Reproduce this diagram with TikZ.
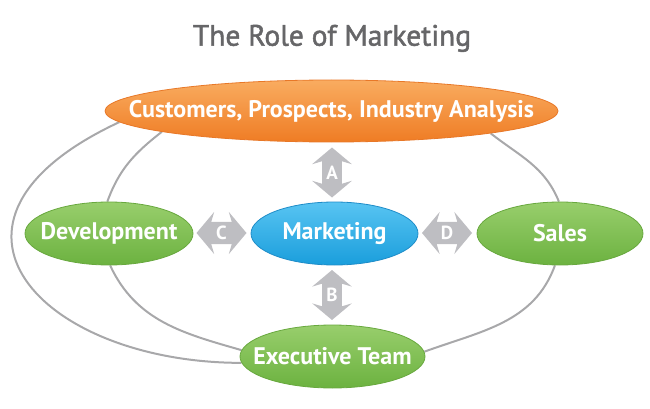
\documentclass[tikz,border=0pt]{standalone}
\usepackage{fontspec}
\setmainfont{PT Sans}
\newfontfamily\titlefont[FakeBold=1.6]{PT Sans}
\usetikzlibrary{shapes.geometric,shapes.arrows,backgrounds}

\definecolor{titlegray}{RGB}{102,102,104}
\definecolor{linkgray}{RGB}{168,168,170}
\definecolor{arrgray}{RGB}{190,190,194}
\definecolor{orangetop}{RGB}{249,172,96}
\definecolor{orangebot}{RGB}{239,124,36}
\definecolor{orangeline}{RGB}{232,120,40}
\definecolor{bluetop}{RGB}{88,196,242}
\definecolor{bluebot}{RGB}{26,158,220}
\definecolor{blueline}{RGB}{30,140,200}
\definecolor{greentop}{RGB}{152,206,108}
\definecolor{greenbot}{RGB}{108,178,64}
\definecolor{greenline}{RGB}{104,168,62}

% text kept out of the ellipse size
\newcommand{\lbl}[1]{\makebox[0pt]{#1}}

\begin{document}
\begin{tikzpicture}[x=1pt, y=1pt,
		blob/.style={ellipse, inner sep=0pt, line width=0.8pt, text=white,
			font=\bfseries\fontsize{24}{28}\selectfont},
		orangeblob/.style={blob, draw=orangeline, top color=orangetop, bottom color=orangebot},
		blueblob/.style={blob, draw=blueline, top color=bluetop, bottom color=bluebot},
		greenblob/.style={blob, draw=greenline, top color=greentop, bottom color=greenbot},
		twoway/.style={double arrow, fill=arrgray, text=white, inner sep=4pt,
			double arrow head extend=10pt, double arrow tip angle=100,
			double arrow head indent=3pt, minimum height=50pt, minimum width=39pt,
			font=\bfseries\fontsize{19}{22}\selectfont},
		link/.style={draw=linkgray, line width=2pt}]

	\useasboundingbox (0,0) rectangle (650,-409);

	\node[anchor=base, text=titlegray, font=\titlefont\fontsize{29.5}{34}\selectfont] (title) at (332,-45.7) {The Role of Marketing};

	\node[orangeblob, minimum width=453pt, minimum height=62pt] (cust) at (331.5,-111) {\lbl{Customers, Prospects, Industry Analysis}};
	\node[greenblob, minimum width=168pt, minimum height=63pt] (dev) at (109,-233.5) {\lbl{Development}};
	\node[blueblob, minimum width=167pt, minimum height=63pt] (mkt) at (334.5,-233.5) {\lbl{Marketing}};
	\node[greenblob, minimum width=166pt, minimum height=63pt] (sales) at (560,-233.5) {\lbl{Sales}};
	\node[greenblob, minimum width=185pt, minimum height=63pt] (exec) at (332.5,-356.5) {\lbl{Executive Team}};

	\node[twoway, shape border rotate=90] (arrA) at (332,-172.5) {A};
	\node[twoway, shape border rotate=90] (arrB) at (332,-295) {B};
	\node[twoway] (arrC) at (221.5,-233) {C};
	\node[twoway] (arrD) at (447,-233) {D};

	% grey rings behind the ellipses
	\begin{scope}[on background layer]
		\draw[link] (cust.183.5) to[out=205, in=180, out distance=235pt, in distance=200pt] (exec.184);
		\draw[link] (cust.187.5) to[out=218, in=70] (dev.93);
		\draw[link] (dev.272) to[out=295, in=164] (exec.176);
		\draw[link] (cust.352.5) to[out=322, in=112] (sales.92);
		\draw[link] (sales.261) to[out=250, in=20] (exec.3);
	\end{scope}

\end{tikzpicture}
\end{document}
